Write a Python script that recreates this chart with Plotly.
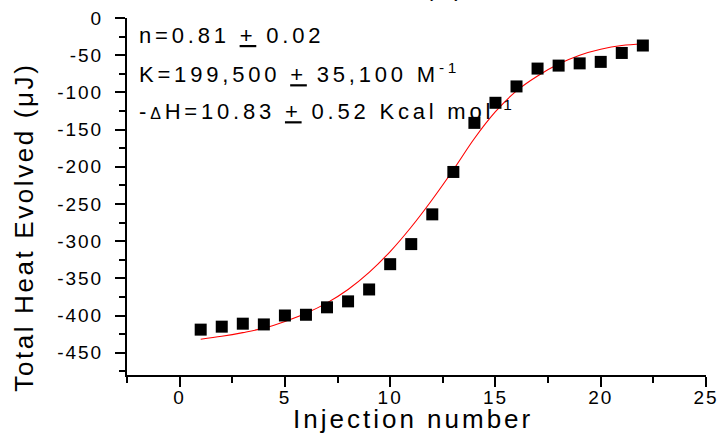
import plotly.graph_objects as go

injection = list(range(1, 23))
heat = [-419, -415, -411, -412, -400, -399, -389, -381, -365, -331, -304,
        -264, -207, -141, -114, -92, -68, -64, -61, -59, -47, -37]
fit_x = list(range(1, 23))
fit_y = [-432, -428, -423, -417, -408, -397, -383, -365, -342, -314, -281,
         -244, -204, -162, -126, -98, -78, -62, -50, -42, -37, -35]

x_ticks = [0, 5, 10, 15, 20, 25]
x_minor = [-2.5, 2.5, 7.5, 12.5, 17.5, 22.5]
y_ticks = [0, -50, -100, -150, -200, -250, -300, -350, -400, -450]
y_ticktext = ["0", "-50", "-100", "-150", "-200", "-250", "-300", "-350", "-400", "-450"]

x_title = "Injection number"
y_title = "Total Heat Evolved (μJ)"
stats = [
    "n=0.81 <u>+</u> 0.02",
    "K=199,500 <u>+</u> 35,100 M<sup>-1</sup>",
    "-<span style='font-size:16px'>Δ</span>H=10.83 <u>+</u> 0.52 Kcal mol<sup>-1</sup>",
]
panel = "(b)"

font = "Liberation Sans, Arial, sans-serif"

fig = go.Figure()
fig.add_trace(go.Scatter(x=fit_x, y=fit_y, mode="lines",
                         line=dict(color="red", width=1.1, shape="spline"), showlegend=False))
fig.add_trace(go.Scatter(x=injection, y=heat, mode="markers",
                         marker=dict(symbol="square", size=12, color="black", line=dict(width=0)),
                         showlegend=False))

fig.update_layout(
    width=721, height=443,
    margin=dict(l=127, r=15, t=18, b=68),
    paper_bgcolor="white", plot_bgcolor="white",
    font=dict(family=font, color="black", size=19),
    xaxis=dict(range=[-2.5, 25], tickvals=x_ticks, ticks="outside", ticklen=10, tickwidth=2,
               tickcolor="black", showline=True, linewidth=2, linecolor="black",
               showgrid=False, zeroline=False, automargin=False,
               minor=dict(tickvals=x_minor, ticks="outside", ticklen=6, tickwidth=2, tickcolor="black"),
               tickfont=dict(size=19), ticklabelstandoff=-6),
    yaxis=dict(range=[-480, 0], tickvals=y_ticks, ticktext=y_ticktext, ticks="outside", ticklen=10,
               tickwidth=2, tickcolor="black", showline=True, linewidth=2, linecolor="black",
               showgrid=False, zeroline=False, automargin=False,
               minor=dict(dtick=25, ticks="outside", ticklen=6, tickwidth=2, tickcolor="black"),
               tickfont=dict(size=19), ticklabelstandoff=8),
)

for text, yy in zip(stats, [0.95, 0.847, 0.743]):
    fig.add_annotation(text=text, xref="paper", yref="paper", x=0.018, y=yy, xanchor="left",
                       yanchor="middle", align="left", showarrow=False,
                       font=dict(size=22, family=font, color="black"))

fig.add_annotation(text=panel, xref="paper", yref="paper", x=0.55, y=1.085, xanchor="center",
                   yanchor="middle", showarrow=False, font=dict(size=24, family=font, color="black"))

fig.add_annotation(text=x_title, xref="paper", yref="paper", x=0.495, y=-0.123, xanchor="center",
                   yanchor="middle", showarrow=False, font=dict(size=26, family=font, color="black"))

fig.add_annotation(text=y_title, xref="paper", yref="paper", x=-0.178, y=0.415, xanchor="center",
                   yanchor="middle", textangle=-90, showarrow=False,
                   font=dict(size=26, family=font, color="black"))

css = ("body {margin:0;} "
       ".xtick text, .ytick text {letter-spacing: 2px;} "
       ".annotation-text {letter-spacing: 3.8px;} "
       ".annotation[data-index=\\\"4\\\"] .annotation-text {letter-spacing: 3px;} "
       ".annotation[data-index=\\\"5\\\"] .annotation-text {letter-spacing: 2.6px;}")
post = ("document.body.style.margin='0';"
        "var s=document.createElement('style');s.innerHTML='" + css + "';document.head.appendChild(s);")

fig.write_html("out.html", post_script=post, config={"displayModeBar": False})
